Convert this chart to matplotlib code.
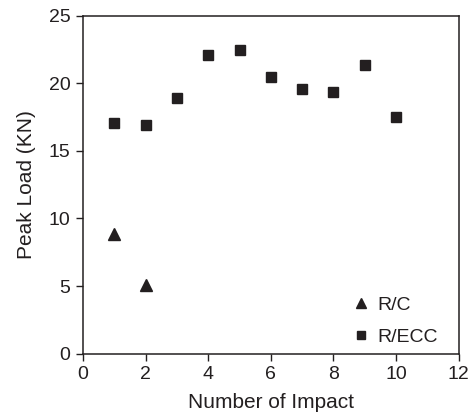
import matplotlib
matplotlib.use("Agg")
import matplotlib.pyplot as plt

plt.rcParams['font.family'] = ['Liberation Sans', 'DejaVu Sans']

impact_rc = [1, 2]
load_rc = [8.85, 5.05]
impact_ecc = [1, 2, 3, 4, 5, 6, 7, 8, 9, 10]
load_ecc = [17.05, 16.88, 18.9, 22.12, 22.45, 20.45, 19.6, 19.35, 21.37, 17.47]

ink = '#231f20'

fig = plt.figure(figsize=(4.73, 4.13), dpi=100)
ax = fig.add_axes([0.1755, 0.1436, 0.7942, 0.8184])

ax.plot(impact_rc, load_rc, linestyle='none', marker='^', markersize=8.5,
        color=ink, label='R/C')
ax.plot(impact_ecc, load_ecc, linestyle='none', marker='s', markersize=7.5,
        color=ink, label='R/ECC')

ax.set_xlim(0, 12)
ax.set_ylim(0, 25)
ax.set_xticks(range(0, 13, 2))
ax.set_yticks(range(0, 26, 5))
ax.tick_params(direction='out', length=5, width=1, colors=ink,
               labelsize=14, pad=4, top=False, right=False)
for s in ax.spines.values():
    s.set_color(ink)
    s.set_linewidth(1.1)

ax.set_xlabel('Number of Impact', fontsize=15, color=ink, labelpad=7)
ax.set_ylabel('Peak Load (KN)', fontsize=15, color=ink, labelpad=9)

leg = ax.legend(loc='lower right', frameon=False, fontsize=14,
                markerscale=0.85, handlelength=0.8, handletextpad=0.45,
                labelspacing=0.75, borderaxespad=0.0, bbox_to_anchor=(0.965, 0.0))
for t in leg.get_texts():
    t.set_color(ink)

fig.savefig('out.png', dpi=100)
